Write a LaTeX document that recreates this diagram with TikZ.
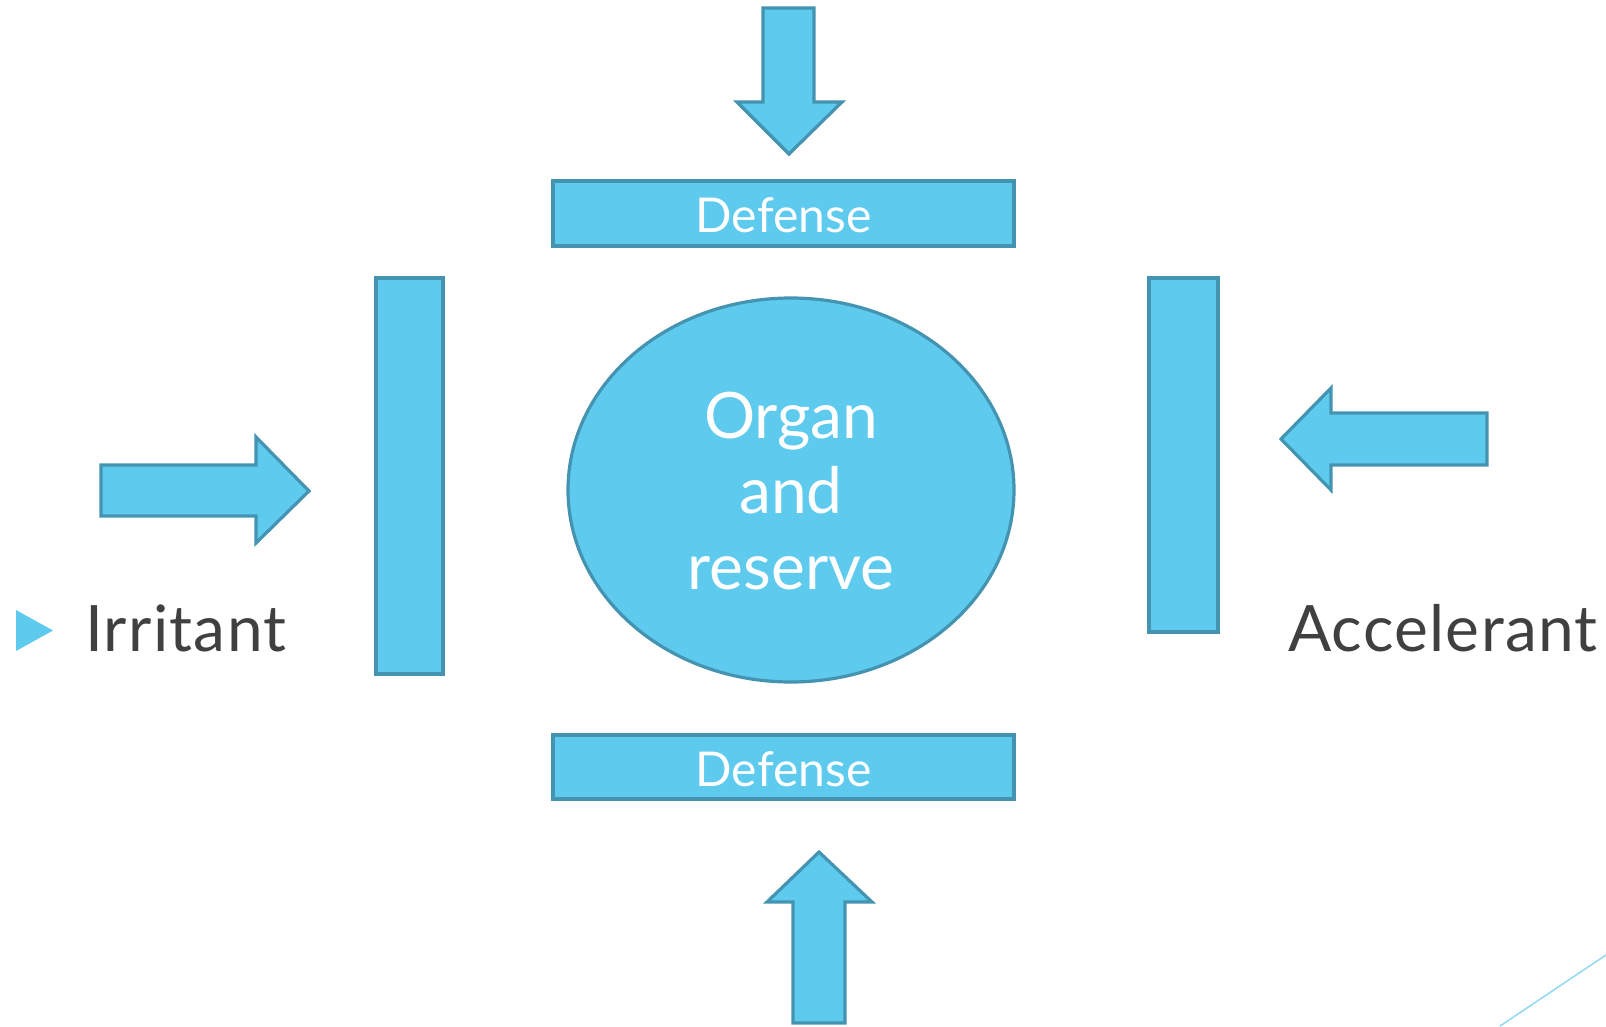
\documentclass[tikz,border=0pt]{standalone}
\usepackage{fontspec}
\setmainfont{Lato}
\definecolor{fillblue}{HTML}{5DCAEE}
\definecolor{edgeblue}{HTML}{4494B1}
\definecolor{darktext}{HTML}{404040}
\definecolor{lineblue}{HTML}{8FD9F2}
\begin{document}
\begin{tikzpicture}[x=1pt,y=-1pt,
  shapebox/.style={fill=fillblue,draw=edgeblue,line width=3.2pt,line join=miter},
  whitelbl/.style={text=white,anchor=base,inner sep=0pt},
  sidelbl/.style={text=darktext,anchor=base west,inner sep=0pt,font=\fontsize{64}{64}\selectfont\addfontfeatures{LetterSpace=2}}]
\useasboundingbox (0,0) rectangle (1606,1026);
% top arrow (down)
\draw[shapebox] (763,8) -- (814,8) -- (814,102) -- (842,102) -- (789,154) -- (737,102) -- (763,102) -- cycle;
% bottom arrow (up)
\draw[shapebox] (793,1023) -- (793,902) -- (767,902) -- (819,852) -- (872,902) -- (845,902) -- (845,1023) -- cycle;
% left arrow (right)
\draw[shapebox] (101,465) -- (256,465) -- (256,437) -- (309,491) -- (256,543) -- (256,516) -- (101,516) -- cycle;
% right arrow (left)
\draw[shapebox] (1487,413) -- (1331,413) -- (1331,388) -- (1281,439) -- (1331,490) -- (1331,465) -- (1487,465) -- cycle;
% defense boxes
\draw[shapebox] (553,181) rectangle (1014,246);
\node[whitelbl,font=\fontsize{48}{48}\selectfont] (deftop) at (783.5,232) {Defense};
\draw[shapebox] (553,735) rectangle (1014,799);
\node[whitelbl,font=\fontsize{48}{48}\selectfont] (defbot) at (783.5,786) {Defense};
% vertical bars
\draw[shapebox] (376,278) rectangle (443,674);
\draw[shapebox] (1149,278) rectangle (1218,632);
% ellipse
\draw[shapebox] (791,490) ellipse [x radius=223, y radius=192];
\node[whitelbl,font=\fontsize{64}{64}\selectfont] (organ) at (791,438) {Organ};
\node[whitelbl,font=\fontsize{64}{64}\selectfont] (andw) at (791,513) {and};
\node[whitelbl,font=\fontsize{64}{64}\selectfont] (reserve) at (791,589) {reserve};
% bullet
\fill[fillblue] (16,610) -- (53,630.5) -- (16,651) -- cycle;
\node[sidelbl] (irritant) at (85,651) {Irritant};
\node[sidelbl] (accel) at (1288,651) {Accelerant};
% corner line
\draw[lineblue,line width=1.5pt] (1500,1026) -- (1606,955);
\end{tikzpicture}
\end{document}
